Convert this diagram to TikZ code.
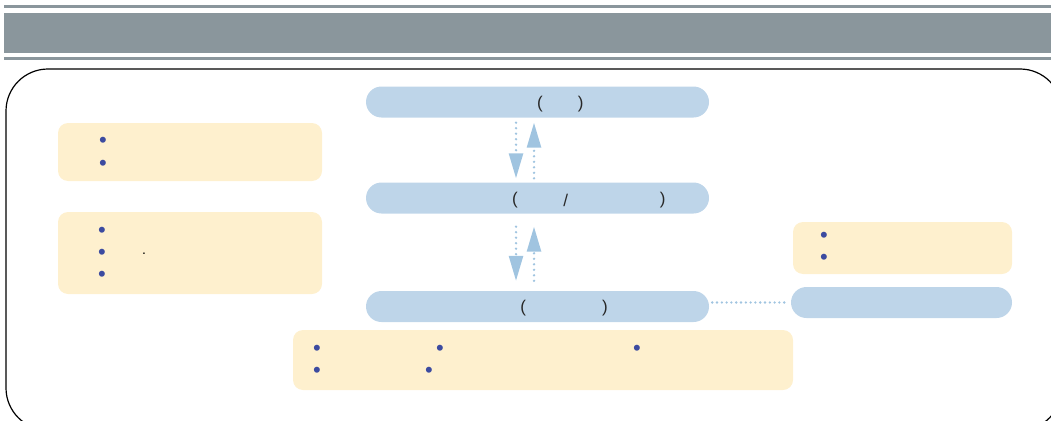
\documentclass[tikz,border=0pt]{standalone}
\usepackage{fontspec}
\setmainfont{Liberation Sans}
\usetikzlibrary{arrows.meta}
\definecolor{barg}{RGB}{138,150,156}
\definecolor{pillb}{RGB}{190,213,233}
\definecolor{boxy}{RGB}{254,240,206}
\definecolor{arrb}{RGB}{160,196,224}
\definecolor{bul}{RGB}{60,75,160}
\definecolor{txtc}{RGB}{40,40,40}
\begin{document}
\begin{tikzpicture}[x=1pt,y=-1pt,
  pill/.style={fill=pillb, draw=none, rounded corners=15.5pt, minimum height=31pt, inner sep=0pt},
  ybox/.style={fill=boxy, draw=none, rounded corners=10pt, inner sep=0pt},
  glyph/.style={inner sep=0pt, text=txtc, font=\fontsize{17}{17}\selectfont},
  bullet/.style={inner sep=0pt, text=bul, font=\fontsize{22}{22}\selectfont, yshift=-3.5pt},
  arr/.style={draw=arrb, line width=2.6pt, line cap=round, dash pattern=on 0pt off 5.5pt, -{Triangle[width=14pt,length=25pt]}},
  dotline/.style={draw=arrb, line width=2.6pt, line cap=round, dash pattern=on 0pt off 4.8pt}]
\useasboundingbox (0,0) rectangle (1051,420);
\clip (0,0) rectangle (1051,420);
% header bars
\fill[barg] (4,5.5) rectangle (1051,7.8);
\fill[barg] (4,13) rectangle (1051,53);
\fill[barg] (4,57) rectangle (1051,60);
% outer frame
\draw[line width=1.2pt, rounded corners=42pt] (6,69) rectangle (1062,430);
% pills
\node[pill, minimum width=343pt] (p1) at (537.5,102) {};
\node[pill, minimum width=343pt] (p2) at (537.5,198) {};
\node[pill, minimum width=343pt] (p3) at (537.5,306.5) {};
\node[pill, minimum width=221pt] (p4) at (901.5,302.5) {};
% pill texts
\node[glyph] (t1a) at (540,104) {(};
\node[glyph] (t1b) at (580.7,104) {)};
\node[glyph] (t2a) at (515,200) {(};
\node[glyph] (t2b) at (565.7,200) {/};
\node[glyph] (t2c) at (662.7,200) {)};
\node[glyph] (t3a) at (523.3,308.5) {(};
\node[glyph] (t3b) at (605,308.5) {)};
% yellow boxes
\node[ybox, minimum width=264pt, minimum height=58pt] (y1) at (190,152) {};
\node[ybox, minimum width=264pt, minimum height=82pt] (y2) at (190,253) {};
\node[ybox, minimum width=219pt, minimum height=52pt] (y3) at (902.5,248) {};
\node[ybox, minimum width=500pt, minimum height=60pt] (y4) at (543,360) {};
% bullets
\node[bullet] (b11) at (103,139) {•};
\node[bullet] (b12) at (103,162) {•};
\node[bullet] (b21) at (102,229) {•};
\node[bullet] (b22) at (102,251) {•};
\node[bullet] (b23) at (102,273) {•};
\node[inner sep=0pt, font=\fontsize{14}{14}\selectfont, yshift=-2pt] (d22) at (144,252) {.};
\node[bullet] (b31) at (824,234) {•};
\node[bullet] (b32) at (824,256) {•};
\node[bullet] (b41) at (317,347) {•};
\node[bullet] (b42) at (440,347) {•};
\node[bullet] (b43) at (637,347) {•};
\node[bullet] (b44) at (317,369) {•};
\node[bullet] (b45) at (429,369) {•};
% arrows
\draw[arr] ([xshift=-21.5pt,yshift=-5pt]p1.south) -- ([xshift=-21.5pt,yshift=4pt]p2.north);
\draw[arr] ([xshift=-3.5pt,yshift=4pt]p2.north) -- ([xshift=-3.5pt,yshift=-5pt]p1.south);
\draw[arr] ([xshift=-21.5pt,yshift=-13pt]p2.south) -- ([xshift=-21.5pt,yshift=10pt]p3.north);
\draw[arr] ([xshift=-3.5pt,yshift=10pt]p3.north) -- ([xshift=-3.5pt,yshift=-13pt]p2.south);
\draw[dotline] ([xshift=3pt]p3.east |- p4.west) -- ([xshift=-5pt]p4.west);
\end{tikzpicture}
\end{document}
